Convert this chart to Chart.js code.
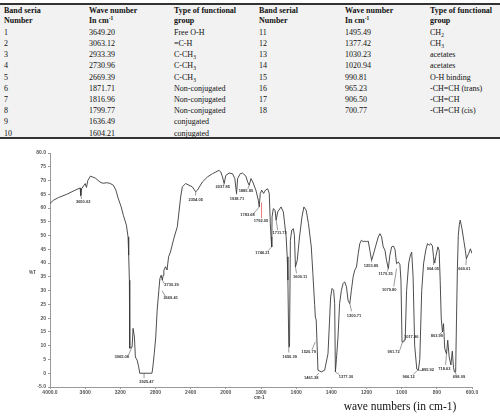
<!DOCTYPE html>
<html>
<head>
<meta charset="utf-8">
<script src="https://cdn.jsdelivr.net/npm/chart.js@4/dist/chart.umd.min.js"></script>
<style>
  html, body { margin:0; padding:0; background:#fff; }
  body { width:500px; height:416px; position:relative; overflow:hidden; font-family:"Liberation Serif", serif; }
  #tblBg { position:absolute; left:0; top:4px; width:500px; height:134px; background:#f2f2f2; }
  .rule { position:absolute; left:0; width:500px; height:2px; background:#333; }
  #tbl { position:absolute; left:0; top:0; width:500px; height:140px; }
  .cell { position:absolute; font-size:8px; line-height:9px; color:#111; white-space:nowrap; }
  .cell sub { font-size:5.5px; line-height:0; vertical-align:-1.5px; }
  .cell sup { font-size:5.5px; line-height:0; vertical-align:3px; }
  .hdr { font-weight:bold; }
  #chartWrap { position:absolute; left:0; top:140px; width:500px; height:276px; }
  #xtitle { position:absolute; left:300px; width:200px; top:400px; text-align:center; font-size:11.5px; color:#111; }
  .small { position:absolute; font-family:"Liberation Sans", sans-serif; font-size:4.5px; font-weight:bold; color:#444; }
</style>
</head>
<body>
<div id="tblBg"></div>
<div class="rule" style="top:3px;"></div>
<div class="rule" style="top:137px;"></div>
<div id="tbl"></div>
<div id="chartWrap"><canvas id="c" width="500" height="276"></canvas></div>
<div class="small" style="left:29px; top:270px;">%T</div>
<div class="small" style="left:254px; top:395px;">cm-1</div>
<div id="xtitle">wave numbers (in cm-1)</div>
<script>
// ---------- Table data ----------
const headers = ["Band seria|Number", "Wave number|In cm<sup>-1</sup>", "Type of functional|group",
                 "Band serial|Number", "Wave number|In cm<sup>-1</sup>", "Type of functional|group"];
const bandLeft = ["1","2","3","4","5","6","7","8","9","10"];
const waveLeft = ["3649.20","3063.12","2933.39","2730.96","2669.39","1871.71","1816.96","1799.77","1636.49","1604.21"];
const groupLeft = ["Free O-H","=C-H","C-CH<sub>3</sub>","C-CH<sub>3</sub>","C-CH<sub>3</sub>","Non-conjugated","Non-conjugated","Non-conjugated","conjugated","conjugated"];
const bandRight = ["11","12","13","14","15","16","17","18"];
const waveRight = ["1495.49","1377.42","1030.23","1020.94","990.81","965.23","906.50","700.77"];
const groupRight = ["CH<sub>2</sub>","CH<sub>3</sub>","acetates","acetates","O-H binding","-CH=CH (trans)","-CH=CH","-CH=CH (cis)"];

// ---------- Spectrum data ----------
const xTickLabels = ["4000.0","3600","3200","2800","2400","2000","1800","1600","1400","1200","1000","800","600.0"];
const yTickValues = [-5,0,5,10,15,20,25,30,35,40,45,50,55,60,65,70,75,80];
const waveNumbers = [4000,3962,3905,3809,3714,3657,3650,3640,3600,3585,3570,3540,3480,3430,3395,3355,3320,3280,3250,3225,3190,3166,3131,3112,3105,3097,3093,3066,3055,3040,3029,3009,2991,2979,2840,2830,2814,2797,2781,2762,2750,2735,2723,2712,2705,2686,2669,2651,2630,2591,2552,2514,2495,2457,2419,2381,2343,2323,2266,2209,2152,2114,2077,2057,2038,2019,2000,1981,1962,1949,1939,1933,1918,1905,1886,1876,1867,1857,1847,1829,1815,1810,1804,1796,1785,1775,1762,1753,1747,1743,1739,1737,1730,1720,1714,1705,1686,1673,1657,1651,1647,1642,1638,1633,1625,1616,1610,1604,1594,1581,1567,1556,1543,1530,1514,1505,1495,1491,1486,1476,1457,1438,1419,1410,1404,1396,1387,1381,1377,1371,1362,1353,1343,1333,1324,1314,1305,1295,1286,1276,1267,1257,1247,1238,1229,1219,1210,1200,1190,1181,1171,1162,1149,1133,1124,1114,1105,1095,1086,1076,1067,1057,1047,1038,1029,1019,1010,1004,998,990,980,972,960,950,943,935,926,914,905,897,886,875,863,853,844,834,825,819,812,806,794,787,781,775,768,762,755,745,738,730,720,712,705,700,693,688,683,678,672,667,657,647,638,632,619,609,600];
const transmittance = [61.7,62.8,63.8,65,66.5,67.3,64.5,67,68.9,67.5,70,71.6,70.8,69.4,69,69.2,69,68.3,66.5,63.6,60.4,57.4,53.8,49.5,42.9,33.8,9.1,9.6,16.3,13.2,5.9,4.7,2.3,0,0,2.3,7.2,13.2,22.9,30.1,34.4,35.6,33.8,35.6,37.4,38.7,37.5,42.3,44,49,53.2,64,67.7,68.9,68.3,67.7,65.9,66.5,69.5,71.3,72.5,73.1,73.7,73.1,71.3,68.9,71.9,72.7,72.5,70.7,65.3,70.7,72.5,72.7,71.6,69.5,68.3,70.7,69.5,66.5,62.8,60.4,65.3,66.5,65.3,66.5,67,65.3,54.3,49.5,45.9,56.8,59.8,59.2,55.6,58.6,60.4,58.6,49.5,42.3,33.8,9.6,9.6,48.3,52,52.5,50,38.6,41,49.5,56.8,60.4,59.2,54.3,45.9,36.2,25,20.4,19.3,1.1,0.5,1.1,7.1,19.3,27.7,30.8,30.1,25.3,0.5,5,13.2,25.3,30.1,32.6,33.2,31.4,26.5,25.3,30.1,35,37.4,38.6,43.5,47.1,48.3,47.8,48,47.8,48,44.7,41,42.9,45.9,49.5,50.7,49.5,45.9,44.7,41,38,42.9,45.9,46.2,45,39.8,40.4,39.5,33.8,11.4,11.4,12,30,40,43,44,35,10,1.5,1.1,5,30,40,44.7,47.1,46.5,47.1,46.2,42.3,40,42.3,45.9,44.7,33.8,20,15,18,9,7,12,6,3,8,2,0.5,0.5,20,38,50,54,55.6,52.5,48.3,44.7,41.6,43.5,45.2,43.5];

// ---------- Peak annotations (label text, label centre, leader from / to) ----------
const peakText   = ["3650.02","3065.08","2925.47","2730.39","2669.41","2354.05","2037.85","1938.71","1885.85","1783.68","1792.05","1746.21","1711.73","1650.39","1600.11","1520.79","1461.38","1377.30","1300.71","1253.89","1170.35","1079.80","1017.86","991.72","966.12","895.92","904.05","803.99","718.63","698.09","660.01"];
const peakLabelW = [3623,3183,2903,2617,2628,2343,2034,1937,1886,1877,1800,1791,1694,1637,1577,1529,1514,1317,1271,1174,1091,1071,946,1046,960,851,823,800,757,674,643];
const peakLabelT = [62.3,5.8,-3.3,32,27.2,63,67.7,63.4,66.1,57.4,55.2,43.6,50.9,5.8,34.9,7.6,-1.8,-1.5,21,38.9,36,30.1,13.1,7.6,-1.5,1.1,37.8,13.4,1.5,-1.5,37.8];
const leadFromW  = [3650,3066,2930,2723,2725,2343,2019,1939,1867,1810,1797,1739,1714,1642,1604,1491,1470,1377,1295,1171,1076,1029,995,995,910,905,819,770,745,695,632];
const leadFromT  = [64.5,9.6,0,33.8,30,65.9,68.9,65.3,68.3,60.4,62,45.9,55.6,9.6,38.6,11.4,0,0.5,25.3,41,38,38,11.4,11.4,1.1,1.1,42.3,15,7,0.5,41.6];
const leadToW    = [3640,3109,2930,2700,2690,2343,2025,1939,1875,1845,1797,1760,1705,1642,1598,1510,1485,1355,1285,1171,1082,1045,975,1010,935,880,819,785,750,690,635];
const leadToT    = [63.3,6.5,-1.8,32.5,28,64.5,68.3,64.8,67,57.8,56.3,44.5,52,7.5,36.3,8.5,-0.8,-0.5,22.5,40.3,37,31.5,13,8.5,-0.5,1,39.3,14,3,-0.5,39.3];
const leaderColors = peakText.map(t => t === "1792.05" ? '#d22' : '#555');

// ---------- Build table ----------
const tbl = document.getElementById('tbl');
const colX = [4, 89, 174, 259, 345, 430];
const rowY0 = 32.3, rowStep = 11.2;
function addCell(html, x, yCenter, cls) {
  const d = document.createElement('div');
  d.className = 'cell' + (cls ? ' ' + cls : '');
  d.style.left = x + 'px'; d.style.top = (yCenter - 4.5) + 'px';
  d.innerHTML = html; tbl.appendChild(d);
}
headers.forEach((h, i) => {
  const [a, b] = h.split('|');
  addCell(a, colX[i], 10, 'hdr');
  addCell(b, colX[i], 20.5, 'hdr');
});
bandLeft.forEach((b, i) => {
  const y = rowY0 + i * rowStep;
  addCell(b, colX[0], y); addCell(waveLeft[i], colX[1], y); addCell(groupLeft[i], colX[2], y);
});
bandRight.forEach((b, i) => {
  const y = rowY0 + i * rowStep;
  addCell(b, colX[3], y); addCell(waveRight[i], colX[4], y); addCell(groupRight[i], colX[5], y);
});

// ---------- Axis transform (4000-2000 compressed, 2000-600 expanded) ----------
function toAxis(w) { return w >= 2000 ? (4000 - w) / 400 : 5 + (2000 - w) / 200; }
const points = waveNumbers.map((w, i) => ({ x: toAxis(w), y: transmittance[i] }));

const peakLabelPlugin = {
  id: 'peakLabels',
  afterDatasetsDraw(chart) {
    const { ctx, scales: { x, y } } = chart;
    ctx.save();
    ctx.lineWidth = 0.6;
    ctx.font = "bold 4px 'Liberation Sans'";
    ctx.textAlign = 'center'; ctx.textBaseline = 'middle';
    peakText.forEach((t, i) => {
      ctx.strokeStyle = leaderColors[i];
      ctx.beginPath();
      ctx.moveTo(x.getPixelForValue(toAxis(leadFromW[i])), y.getPixelForValue(leadFromT[i]));
      ctx.lineTo(x.getPixelForValue(toAxis(leadToW[i])), y.getPixelForValue(leadToT[i]));
      ctx.stroke();
      ctx.fillStyle = '#333';
      ctx.fillText(t, x.getPixelForValue(toAxis(peakLabelW[i])), y.getPixelForValue(peakLabelT[i]));
    });
    ctx.restore();
  }
};

const tickFont = { family: "Liberation Sans", size: 5, weight: 'bold' };
new Chart(document.getElementById('c'), {
  type: 'scatter',
  data: { datasets: [{ data: points, showLine: true, borderColor: '#3a3a3a', borderWidth: 0.9,
                        pointRadius: 0, tension: 0, fill: false }] },
  options: {
    responsive: false, animation: false,
    layout: { padding: { left: 0, right: 28, top: 13, bottom: 4 } },
    plugins: { legend: { display: false }, tooltip: { enabled: false } },
    scales: {
      x: { type: 'linear', min: 0, max: 12,
           afterBuildTicks: s => { s.ticks = xTickLabels.map((_, i) => ({ value: i })); },
           ticks: { callback: (v, i) => xTickLabels[i], font: tickFont, color: '#555', padding: 1, maxRotation: 0, autoSkip: false },
           grid: { drawOnChartArea: false, drawTicks: true, tickLength: 2, color: '#999' },
           border: { display: true, color: '#999', width: 1 },
           afterFit: s => { s.height = 25; } },
      y: { type: 'linear', min: -5, max: 80,
           afterBuildTicks: s => { s.ticks = yTickValues.map(v => ({ value: v })); },
           ticks: { callback: v => (v === -5 ? '-5.0' : v === 80 ? '80.0' : String(v)), font: tickFont, color: '#555', padding: 2, autoSkip: false },
           grid: { drawOnChartArea: false, drawTicks: true, tickLength: 2, color: '#999' },
           border: { display: true, color: '#999', width: 1 },
           afterFit: s => { s.width = 50; } }
    }
  },
  plugins: [peakLabelPlugin]
});
</script>
</body>
</html>
